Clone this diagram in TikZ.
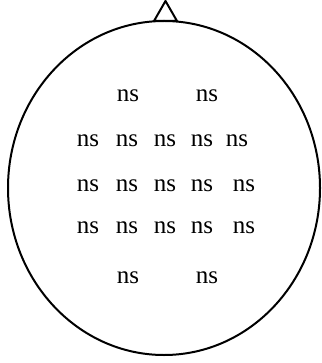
\documentclass[tikz,border=0pt]{standalone}
\usepackage{fontspec}
\setmainfont{Liberation Serif}
\begin{document}
\begin{tikzpicture}[x=1pt,y=-1pt,line width=2pt,
  lab/.style={font=\fontsize{25}{30}\selectfont,inner sep=0pt}]
\useasboundingbox (0,0) rectangle (321,363);
\draw (164,188) ellipse [x radius=156pt, y radius=167pt];
\draw[line join=miter] (154,21) -- (165.5,1) -- (177,21) -- cycle;
% row 1
\node[lab] (a1) at (128,96) {ns};
\node[lab] (a2) at (207,96) {ns};
% row 2
\node[lab] (b1) at (88,141) {ns};
\node[lab] (b2) at (127,141) {ns};
\node[lab] (b3) at (165,141) {ns};
\node[lab] (b4) at (202,141) {ns};
\node[lab] (b5) at (237,141) {ns};
% row 3
\node[lab] (c1) at (88,186) {ns};
\node[lab] (c2) at (127,186) {ns};
\node[lab] (c3) at (165,186) {ns};
\node[lab] (c4) at (202,186) {ns};
\node[lab] (c5) at (244,186) {ns};
% row 4
\node[lab] (d1) at (88,228) {ns};
\node[lab] (d2) at (127,228) {ns};
\node[lab] (d3) at (165,228) {ns};
\node[lab] (d4) at (202,228) {ns};
\node[lab] (d5) at (244,228) {ns};
% row 5
\node[lab] (e1) at (128,278) {ns};
\node[lab] (e2) at (207,278) {ns};
\end{tikzpicture}
\end{document}
